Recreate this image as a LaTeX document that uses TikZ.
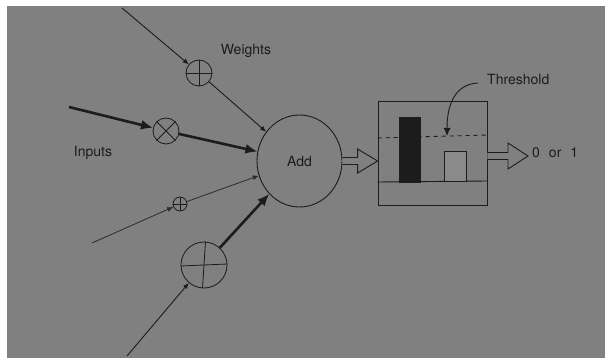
\documentclass[tikz,border=0pt]{standalone}
\usepackage{fontspec}
\setmainfont{TeX Gyre Heros}
\usetikzlibrary{arrows.meta,shapes.geometric,calc}
\definecolor{bg}{HTML}{808080}
\definecolor{ink}{HTML}{1C1C1C}
\definecolor{bar}{HTML}{8A8A8A}
\tikzset{
  lbl/.style={text=ink,font=\fontsize{14}{16}\selectfont,inner sep=0pt},
  wcirc/.style={circle,draw=ink,line width=0.8pt,inner sep=0pt},
  thin/.style={draw=ink,line width=0.9pt,-{Latex[length=6pt,width=5pt]}},
  thick/.style={draw=ink,line width=2.6pt,-{Latex[length=12pt,width=10pt]}},
  faint/.style={draw=ink!85!bg,line width=0.8pt,-{Latex[length=6pt,width=5pt]}},
  hollow/.style={draw=ink,line width=0.9pt,fill=bg,line join=miter},
}
\begin{document}
\begin{tikzpicture}[x=1pt,y=-1pt]
\fill[white] (0,0) rectangle (605,358);
\fill[bg] (7,6) rectangle (605,358);
\useasboundingbox (0,0) rectangle (605,358);

% summation node
\node[ellipse,draw=ink,line width=0.9pt,minimum width=85pt,minimum height=92pt,inner sep=0pt] (add) at (299.5,161) {};
\node[lbl] at (299.5,162) {Add};

% weight circles
\node[wcirc,minimum size=26pt] (w1) at (199,73) {};
\node[wcirc,minimum size=26pt] (w2) at (166,131) {};
\node[wcirc,minimum size=14pt] (w3) at (180,204) {};
\node[wcirc,minimum size=46pt] (w4) at (204,265) {};
\draw[ink,line width=0.8pt] (w1.north)--(w1.south) (w1.west)--(w1.east);
\draw[ink,line width=0.8pt] (w2.north east)--(w2.south west) (w2.north west)--(w2.south east);
\draw[ink,line width=0.7pt] (w3.north)--(w3.south) (w3.west)--(w3.east);
\draw[ink,line width=0.8pt] ($(w4.north)+(1.5,0)$)--($(w4.south)+(-1.5,0)$) ($(w4.west)+(0,1)$)--($(w4.east)+(0,-1)$);

% input free ends
\coordinate (i1) at (122,8);
\coordinate (i2) at (69,107);
\coordinate (i3) at (92,243);
\coordinate (i4) at (127,356);

\draw[thin] (i1) -- (w1);
\draw[thin] (w1) -- (add);
\draw[thick] (i2) -- (w2);
\draw[thick] (w2) -- (add);
\draw[faint] (i3) -- (w3);
\draw[faint] (w3) -- (add);
\draw[thin] (i4) -- (w4);
\draw[thick] (w4) -- (add);

% labels
\node[lbl] (weights) at (246,51) {Weights};
\node[lbl] (inputs) at (93,153) {Inputs};

% threshold box
\node[draw=ink,line width=0.9pt,minimum width=109pt,minimum height=104pt,inner sep=0pt] (box) at (432.5,153) {};
\draw[ink,line width=0.9pt] (box.west |- 0,182) -- (box.east |- 0,181);
\fill[ink] (399,117) rectangle (421,183);
\node[draw=ink,fill=bar,line width=0.8pt,minimum width=22pt,minimum height=30pt,inner sep=0pt] (gbar) at (455,166) {};
\draw[ink,line width=0.9pt,dash pattern=on 4pt off 4pt] (box.west |- 0,138) -- (box.east |- 0,135);

% threshold label and arrow
\node[lbl,anchor=west] (thr) at (487,80) {Threshold};
\draw[ink,line width=0.9pt,-{Latex[length=8pt,width=7pt]}] ($(thr.west)+(-9,3)$) .. controls (458,84) and (447,100) .. (447,136);

% hollow arrow add -> box
\coordinate (a0) at (add.east |- 0,161);
\coordinate (a1) at (box.west |- 0,161);
\draw[hollow] ($(a0)+(0,-3.5)$) -- ($(a1)+(-20,-3.5)$) -- ($(a1)+(-20,-12)$) -- (a1)
   -- ($(a1)+(-20,12)$) -- ($(a1)+(-20,3.5)$) -- ($(a0)+(0,3.5)$);

% hollow arrow box -> output
\node[lbl,anchor=west] (out) at (532,153) {0\hspace{9pt}or\hspace{9pt}1};
\coordinate (b0) at (box.east |- 0,156);
\coordinate (b1) at ($(out.west)+(-4,3)$);
\draw[hollow] ($(b0)+(0,-3.5)$) -- ($(b1)+(-20,-3.5)$) -- ($(b1)+(-20,-13)$) -- (b1)
   -- ($(b1)+(-20,13)$) -- ($(b1)+(-20,3.5)$) -- ($(b0)+(0,3.5)$);
\end{tikzpicture}
\end{document}
